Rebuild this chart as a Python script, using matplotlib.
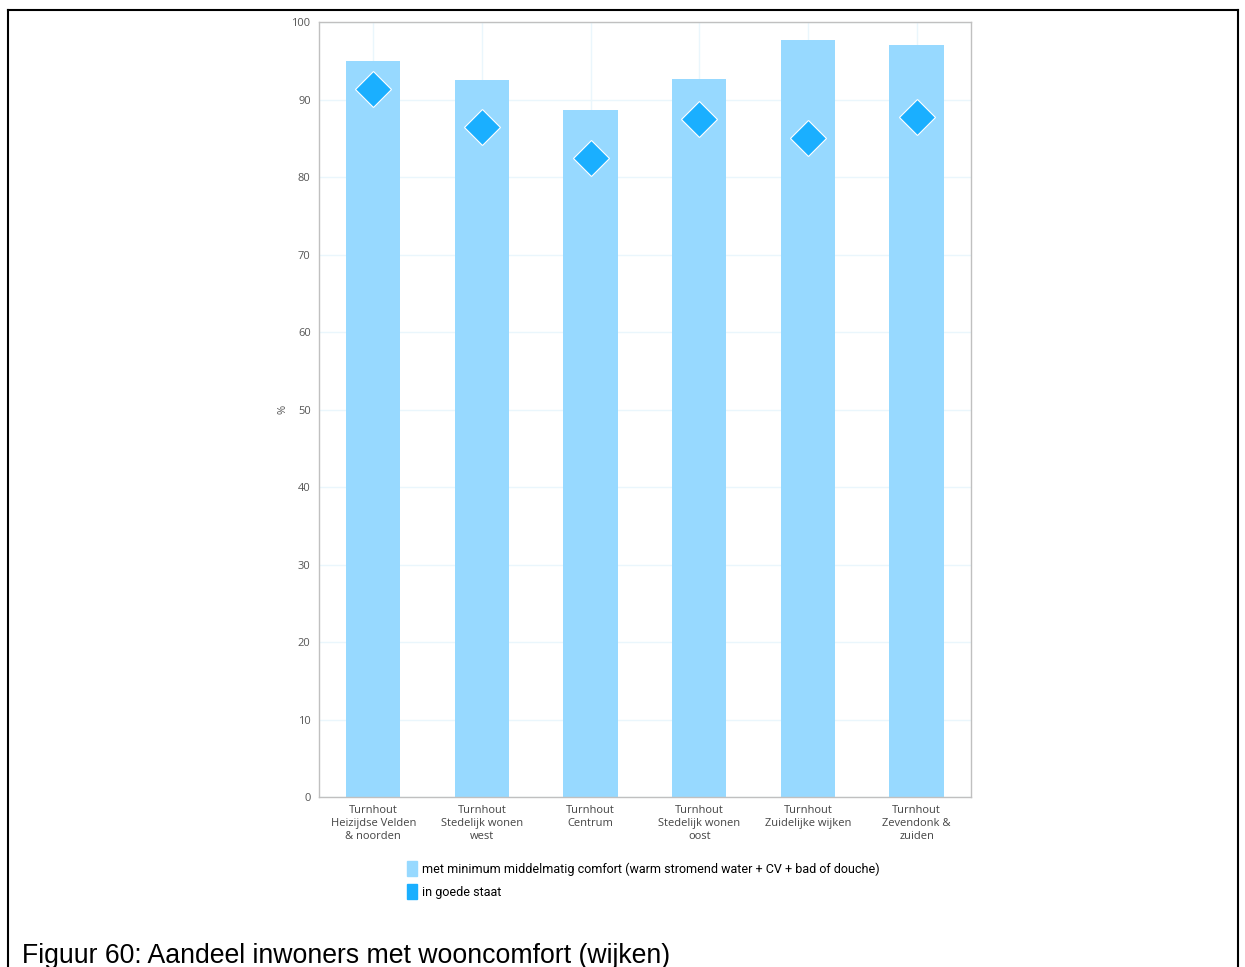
import matplotlib.pyplot as plt
from matplotlib.patches import Patch
from matplotlib.lines import Line2D

# Data
wijken = [
    'Turnhout\nHeizijdse Velden\n& noorden',
    'Turnhout\nStedelijk wonen\nwest',
    'Turnhout\nCentrum',
    'Turnhout\nStedelijk wonen\noost',
    'Turnhout\nZuidelijke wijken',
    'Turnhout\nZevendonk &\nzuiden',
]
comfort = [95.0, 92.5, 88.7, 92.6, 97.7, 97.0]
goede_staat = [91.3, 86.5, 82.4, 87.5, 85.0, 87.8]

bar_color = '#97D9FF'
dia_color = '#1AAFFF'

fig = plt.figure(figsize=(12.45, 9.67), dpi=100)
ax = fig.add_axes([0.2562, 0.1758, 0.5237, 0.8014])

x = list(range(len(wijken)))
ax.bar(x, comfort, width=0.5, color=bar_color, zorder=2)
ax.plot(x, goede_staat, linestyle='none', marker='D', markersize=18.5,
        markerfacecolor=dia_color, markeredgecolor='white', markeredgewidth=0.8, zorder=3)

ax.set_xlim(-0.5, len(wijken) - 0.5)
ax.set_ylim(0, 100)
ax.set_yticks(range(0, 101, 10))
ax.set_xticks(x)
ax.set_xticklabels(wijken, fontsize=8, color='#444444', family='Open Sans', linespacing=1.25)
for lab in ax.get_yticklabels():
    lab.set_fontsize(8)
    lab.set_color('#555555')
    lab.set_family('Open Sans')
ax.tick_params(length=0, pad=6)
ax.grid(True, color='#EAF6FC', linewidth=1, zorder=0)
ax.set_axisbelow(True)
for s in ax.spines.values():
    s.set_color('#C0C0C0')
    s.set_linewidth(1)
ax.set_ylabel('%', fontsize=8, color='#555555', family='Open Sans', labelpad=2)

handles = [Patch(color=bar_color), Patch(color=dia_color)]
labels = ['met minimum middelmatig comfort (warm stromend water + CV + bad of douche)', 'in goede staat']
fig.legend(handles, labels, loc='upper left', bbox_to_anchor=(0.318, 0.121), frameon=False,
           handlelength=0.8, handleheight=1.4, handletextpad=0.35, labelspacing=0.7,
           prop={'family': 'Roboto', 'size': 9})

# figure caption and frame
fig.text(0.018, 0.004, 'Figuur 60: Aandeel inwoners met wooncomfort (wijken)',
         fontsize=19.2, family='Liberation Sans', color='black')
fig.add_artist(Line2D([8 / 1245, 1238 / 1245], [1 - 10 / 967, 1 - 10 / 967], color='black', lw=1.5))
fig.add_artist(Line2D([8 / 1245, 8 / 1245], [0, 1 - 10 / 967], color='black', lw=1.5))
fig.add_artist(Line2D([1238 / 1245, 1238 / 1245], [0, 1 - 10 / 967], color='black', lw=1.5))

fig.savefig('out.png', dpi=100)
